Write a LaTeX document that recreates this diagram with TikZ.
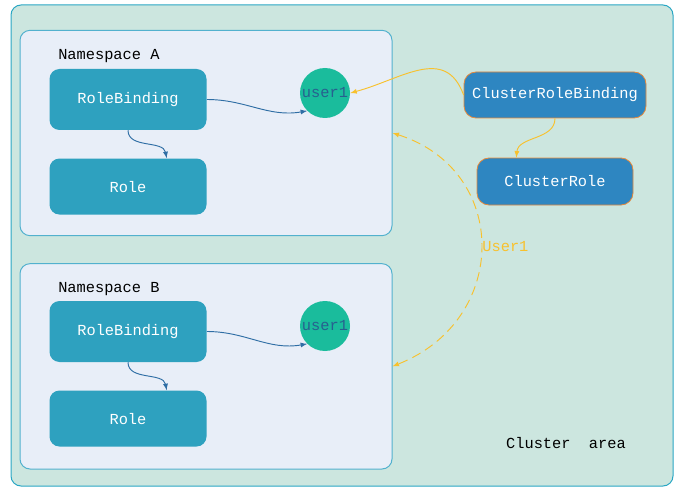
\documentclass[tikz,border=0pt]{standalone}
\usepackage{fontspec}
\setmonofont{Liberation Mono}
\usetikzlibrary{positioning}
\definecolor{areafill}{HTML}{CCE6DF}
\definecolor{arealine}{HTML}{2AA7C4}
\definecolor{nsfill}{HTML}{E8EEF8}
\definecolor{nsline}{HTML}{52B1CE}
\definecolor{rolefill}{HTML}{2EA1BF}
\definecolor{userfill}{HTML}{1ABC9C}
\definecolor{usertext}{HTML}{27608F}
\definecolor{crfill}{HTML}{2E86C1}
\definecolor{crline}{HTML}{E8893A}
\definecolor{linkblue}{HTML}{2F6EA5}
\definecolor{linkyellow}{HTML}{F8C12D}
\begin{document}
\begin{tikzpicture}[x=0.75pt, y=-0.75pt, font=\ttfamily\fontsize{11.5}{13}\selectfont]
\tikzstyle{area}=[rectangle, rounded corners=7.5pt, draw=arealine, line width=0.75pt, fill=areafill, minimum width=496.5pt, minimum height=360.75pt, inner sep=0pt]
\tikzstyle{ns}=[rectangle, rounded corners=7.5pt, draw=nsline, line width=0.75pt, fill=nsfill, minimum width=279pt, minimum height=154pt, inner sep=0pt]
\tikzstyle{main}=[rectangle, rounded corners=7.5pt, fill=rolefill, text=white, minimum width=117.75pt, inner sep=0pt]
\tikzstyle{user}=[circle, fill=userfill, text=usertext, minimum size=37.5pt, inner sep=0pt]
\tikzstyle{cluster}=[rectangle, rounded corners=9pt, fill=crfill, draw=crline, line width=0.6pt, text=white, inner sep=0pt]
\tikzstyle{connect}=[draw=linkblue, -latex, line width=0.7pt]
\tikzstyle{yconnect}=[draw=linkyellow, -latex, line width=0.7pt]
\useasboundingbox (0,0) rectangle (686,492);
\node[area] (cluster) at (342,245.5) {};
\node[ns] (nsA) at (206,133) {};
\node[ns] (nsB) [below=20.25pt of nsA] {};
\node[anchor=west, inner sep=0pt] (labA) at (58,56) {Namespace A};
\node[anchor=west, inner sep=0pt] (labB) at (58,289) {Namespace B};
\node[main, minimum height=45.75pt] (rbA) at (128,99.5) {RoleBinding};
\node[main, minimum height=42pt] (roleA) [below=21pt of rbA] {Role};
\node[user] (userA) at (325,93) {user1};
\node[main, minimum height=45.75pt] (rbB) at (128,331.5) {RoleBinding};
\node[main, minimum height=42pt] (roleB) [below=21pt of rbB] {Role};
\node[user] (userB) at (325,326) {user1};
\node[cluster, minimum width=136.5pt, minimum height=34.5pt] (crb) at (555,95) {ClusterRoleBinding};
\node[cluster, minimum width=117pt, minimum height=35.25pt] (cr) at (555,181.5) {ClusterRole};
\node (area) at (566,443) {Cluster\ \ area};
\path
    (rbA.east) edge [connect, out=0, in=190] (userA.south west)
    (rbA.south) edge [connect, out=-90, in=100] ([xshift=29pt]roleA.north)
    (rbB.east) edge [connect, out=0, in=190] (userB.south west)
    (rbB.south) edge [connect, out=-90, in=100] ([xshift=29pt]roleB.north)
    (crb.west) edge [yconnect, out=110, in=15, looseness=1.2] (userA.east)
    (crb.south) edge [yconnect, out=-90, in=85] ([xshift=-29pt]cr.north)
;
\draw[linkyellow, latex-latex, line width=0.7pt, dash pattern=on 7pt off 4pt]
    (nsA.east) .. controls (510,170) and (510,320) .. (nsB.east)
    node[pos=0.5, right, text=linkyellow, inner sep=1pt] {User1};
\end{tikzpicture}
\end{document}
